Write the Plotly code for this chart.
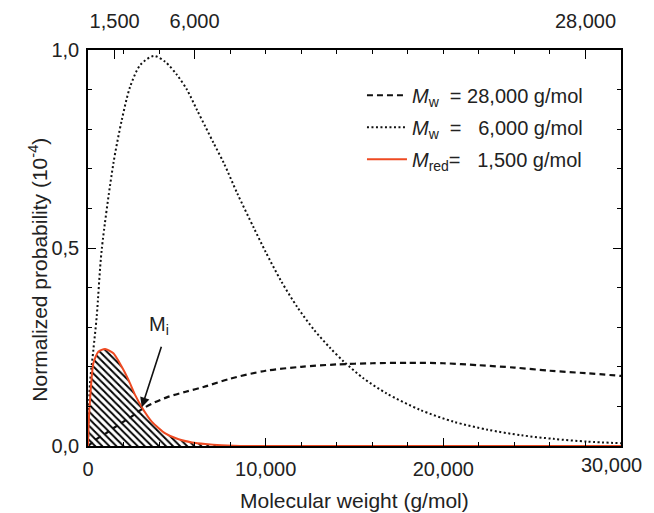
import plotly.graph_objects as go

# ---- data (Normalized probability, units of 1e-4) ----
mw28_x = [0, 200, 500, 1000, 1700, 2500, 3000, 3600, 4500, 5500, 6500, 8000, 10000,
          12000, 14000, 16000, 18000, 20000, 22000, 24000, 26000, 28000, 30000]
mw28_y = [0, 0.007, 0.018, 0.032, 0.053, 0.076, 0.092, 0.107, 0.124, 0.137, 0.149, 0.170, 0.190,
          0.200, 0.206, 0.209, 0.210, 0.209, 0.204, 0.198, 0.190, 0.184, 0.177]

mw6_x = [0, 110, 300, 490, 770, 1430, 1900, 2370, 2940, 3700, 4350, 5010, 5580, 6140,
         6610, 7080, 7650, 8400, 9340, 10000, 10850, 11790, 12730, 13600, 14400, 15500,
         16800, 18700, 20600, 22500, 24400, 26200, 28100, 30000]
mw6_y = [0, 0.158, 0.242, 0.327, 0.495, 0.714, 0.823, 0.907, 0.962, 0.985, 0.970, 0.937, 0.899, 0.848,
         0.806, 0.764, 0.714, 0.638, 0.550, 0.490, 0.418, 0.350, 0.293, 0.249, 0.213, 0.171,
         0.133, 0.091, 0.061, 0.041, 0.027, 0.018, 0.011, 0.007]

mred_x = [0, 40, 113, 300, 580, 960, 1430, 1900, 2280, 2650, 3030, 3600, 4350, 5100,
          5860, 6600, 7500, 9000, 12000, 30000]
mred_y = [0, 0.06, 0.116, 0.209, 0.238, 0.245, 0.234, 0.200, 0.167, 0.129, 0.098, 0.061, 0.032, 0.017,
          0.009, 0.005, 0.002, 0, 0, 0]

bottom_ticks = [0, 10000, 20000, 30000]
bottom_labels = ["0", "10,000", "20,000", "30,000"]
top_ticks = [1500, 6000, 28000]
top_labels = ["1,500", "6,000", "28,000"]
y_ticks = [0, 0.5, 1.0]
y_labels = ["0,0", "0,5", "1,0"]

mi_point = (3030, 0.098)
mi_label = (4000, 0.305)

RED = "#ee4a22"
FONT = "Liberation Sans, Arial, sans-serif"
TXT = "#222222"
NB = "\u00a0"

fig = go.Figure()

# hatched area under red curve
fig.add_trace(go.Scatter(
    x=mred_x, y=mred_y, mode="lines", line=dict(width=0, shape="spline", smoothing=0.6),
    fill="tozeroy", fillcolor="rgba(0,0,0,0)",
    fillpattern=dict(shape="\\", fgcolor="black", bgcolor="white", size=5, solidity=0.38, fgopacity=1),
    showlegend=False, hoverinfo="skip"))

fig.add_trace(go.Scatter(
    x=mw28_x, y=mw28_y, mode="lines",
    line=dict(color="#111111", width=2.2, dash="6px,4px", shape="spline", smoothing=0.8),
    name=f"<i>M</i><sub>w</sub>{NB}{NB}= 28,000 g/mol", legendgroup="a"))
fig.add_trace(go.Scatter(
    x=mw6_x, y=mw6_y, mode="lines",
    line=dict(color="#111111", width=2, dash="2px,2.5px", shape="spline", smoothing=0.8),
    name=f"<i>M</i><sub>w</sub>{NB}{NB}={NB}{NB}{NB}6,000 g/mol", legendgroup="b"))
fig.add_trace(go.Scatter(
    x=mred_x, y=mred_y, mode="lines",
    line=dict(color=RED, width=2, shape="spline", smoothing=0.6),
    name=f"<i>M</i><sub>red</sub>={NB}{NB}{NB}1,500 g/mol", legendgroup="c"))

# dummy trace for top axis
fig.add_trace(go.Scatter(x=[0, 30000], y=[None, None], xaxis="x2", showlegend=False, hoverinfo="skip"))

axis_common = dict(showline=True, linecolor="black", linewidth=1.5, showgrid=False, zeroline=False,
                   ticks="inside", tickcolor="black", tickwidth=1.2, automargin=False,
                   tickfont=dict(family=FONT, size=20, color=TXT))

# last bottom label is drawn as an annotation so it stays inside the window
shown_bottom = bottom_labels[:-1] + [""]

fig.update_layout(
    width=646, height=505,
    margin=dict(l=80, r=33, t=42, b=67),
    paper_bgcolor="white", plot_bgcolor="white",
    font=dict(family=FONT, size=20, color=TXT),
    xaxis=dict(range=[0, 30000], tickmode="array", tickvals=bottom_ticks, ticktext=shown_bottom,
               ticklen=8, ticklabelstandoff=4,
               minor=dict(dtick=2000, tick0=0, ticks="inside", ticklen=4, tickcolor="black"),
               **axis_common),
    xaxis2=dict(range=[0, 30000], overlaying="x", side="top", tickmode="array", tickvals=top_ticks,
                ticktext=top_labels, ticklen=9, ticklabelstandoff=12,
                minor=dict(dtick=2000, tick0=0, ticks="inside", ticklen=4, tickcolor="black"),
                **axis_common),
    yaxis=dict(range=[0, 1.0], tickmode="array", tickvals=y_ticks, ticktext=y_labels, ticklen=8,
               mirror="ticks", ticklabelstandoff=3,
               minor=dict(dtick=0.1, tick0=0, ticks="inside", ticklen=4, tickcolor="black"),
               **axis_common),
    legend=dict(x=0.514, y=0.935, xanchor="left", yanchor="top", bgcolor="rgba(0,0,0,0)",
                font=dict(family=FONT, size=20, color=TXT), tracegroupgap=3,
                itemwidth=40),
    annotations=[
        dict(x=mi_point[0], y=mi_point[1], xref="x", yref="y", ax=20, ay=-62, axref="pixel", ayref="pixel",
             showarrow=True, arrowhead=2, arrowsize=1.2, arrowwidth=1.6, arrowcolor="#111111", text=""),
        dict(x=mi_label[0], y=mi_label[1], xref="x", yref="y", showarrow=False,
             text="M<sub>i</sub>", font=dict(family=FONT, size=20, color=TXT)),
        dict(x=-0.094, y=0.445, xref="paper", yref="paper", showarrow=False, textangle=-90,
             xanchor="center", yanchor="middle",
             text="Normalized probability (10<sup>-4</sup>)", font=dict(family=FONT, size=21, color=TXT)),
        dict(x=0.5, y=-0.137, xref="paper", yref="paper", showarrow=False,
             xanchor="center", yanchor="middle",
             text="Molecular weight (g/mol)", font=dict(family=FONT, size=21, color=TXT)),
        dict(x=bottom_ticks[-1], y=0, xref="x", yref="y", showarrow=False, xanchor="right", yanchor="top",
             xshift=23, yshift=-6, text=bottom_labels[-1], font=dict(family=FONT, size=20, color=TXT)),
    ],
)

fig.write_html("out.html")
